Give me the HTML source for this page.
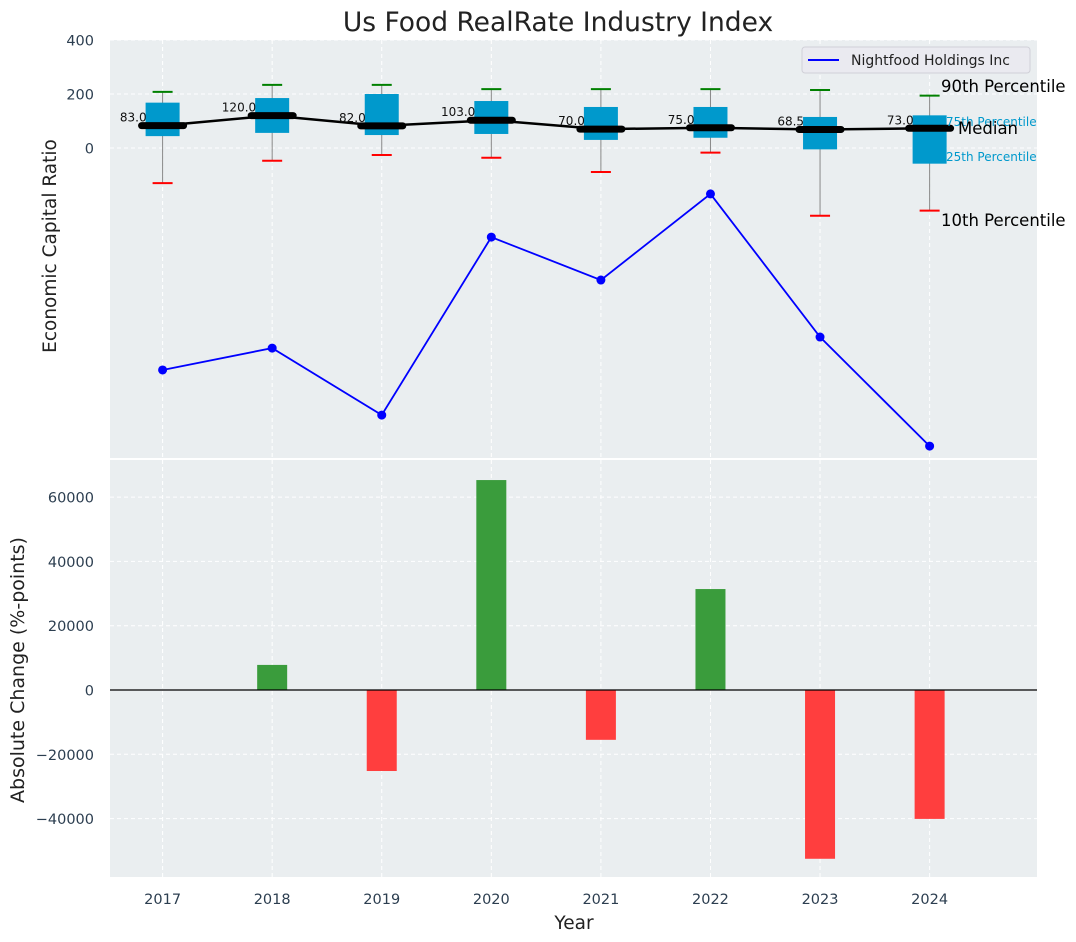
<!DOCTYPE html>
<html><head><meta charset="utf-8"><style>
body{margin:0;background:#fff;}
svg{display:block;font-family:"DejaVu Sans","Liberation Sans",sans-serif;}
</style></head><body>
<svg id="chart" width="1076" height="942" xmlns="http://www.w3.org/2000/svg"></svg>
<script>
const years=[2017,2018,2019,2020,2021,2022,2023,2024];
const p10=[-130,-47,-26,-36,-89,-17,-251,-232];
const q1=[44,56,48,52,30,38,-5,-58];
const medians=[83,120,82,103,70,75,68.5,73];
const q3=[168,185,200,174,152,152,115,121];
const p90=[208,234,234,218,218,218,215,194];
const company=[-822,-741,-989,-330,-489,-170,-700,-1104];
const changes=[0,7800,-25200,65300,-15500,31400,-52500,-40100];
const topTicks=[0,200,400];
const botTicks=[-40000,-20000,0,20000,40000,60000];

const NS="http://www.w3.org/2000/svg";
const svg=document.getElementById('chart');
function mk(tag,attrs,parent,text){const e=document.createElementNS(NS,tag);for(const k in attrs)e.setAttribute(k,attrs[k]);if(text!==undefined)e.textContent=text;(parent||svg).appendChild(e);return e;}
const L=110,R=1037;
const xMin=2016.52,xMax=2024.98;
const X=v=>L+(v-xMin)/(xMax-xMin)*(R-L);
const T0=40,T1=458,tMax=400,tMin=-1148;
const YT=v=>T0+(tMax-v)/(tMax-tMin)*(T1-T0);
const B0=460,B1=877,bMax=71540,bMin=-58170;
const YB=v=>B0+(bMax-v)/(bMax-bMin)*(B1-B0);

let e;
e=mk('text',{x:558,y:31,'text-anchor':'middle','font-size':26.5,fill:'#222'},svg,'Us Food RealRate Industry Index');


const gT=mk('g',{});
mk('rect',{x:L,y:T0,width:R-L,height:T1-T0,fill:'#eaeef0'},gT);
years.forEach(y=>mk('line',{x1:X(y),x2:X(y),y1:T0,y2:T1,stroke:'#fff','stroke-dasharray':'4,3','stroke-width':1},gT));
topTicks.forEach(t=>{mk('line',{x1:L,x2:R,y1:YT(t),y2:YT(t),stroke:'#fff','stroke-dasharray':'4,3'},gT);
 e=mk('text',{x:94,y:YT(t)+5.5,'text-anchor':'end','font-size':14.5,fill:'#2c3e50'},gT,String(t));
 });
e=mk('text',{x:56,y:246,'text-anchor':'middle','font-size':18.5,fill:'#222',transform:'rotate(-90 56 246)'},svg,'Economic Capital Ratio');


years.forEach((y,i)=>{
 const cx=X(y);
 const g=mk('g',{},gT);
 mk('line',{x1:cx,x2:cx,y1:YT(p90[i]),y2:YT(p10[i]),stroke:'#888','stroke-width':1},g);
 mk('rect',{x:cx-17,y:YT(q3[i]),width:34,height:YT(q1[i])-YT(q3[i]),fill:'#0099cc'},g);
 mk('line',{x1:cx-10,x2:cx+10,y1:YT(p90[i]),y2:YT(p90[i]),stroke:'green','stroke-width':2},g);
 mk('line',{x1:cx-10,x2:cx+10,y1:YT(p10[i]),y2:YT(p10[i]),stroke:'red','stroke-width':2},g);
});
let pts=years.map((y,i)=>X(y)+','+YT(medians[i])).join(' ');
e=mk('polyline',{points:pts,fill:'none',stroke:'#000','stroke-width':2.5},gT);

years.forEach((y,i)=>{const cx=X(y);
 e=mk('line',{x1:cx-21,x2:cx+21,y1:YT(medians[i]),y2:YT(medians[i]),stroke:'#000','stroke-width':7,'stroke-linecap':'round'},gT);
 
 e=mk('text',{x:cx-16,y:YT(medians[i])-4,'text-anchor':'end','font-size':12,fill:'#111'},gT,medians[i].toFixed(1));
 });
pts=years.map((y,i)=>X(y)+','+YT(company[i])).join(' ');
e=mk('polyline',{points:pts,fill:'none',stroke:'blue','stroke-width':1.8},gT);

years.forEach((y,i)=>{e=mk('circle',{cx:X(y),cy:YT(company[i]),r:4.5,fill:'blue'},gT);
 });
const lg=mk('g',{},gT);
mk('rect',{x:802,y:47,width:228,height:26,rx:3,fill:'#eaeaf0',stroke:'#d0d0d8'},lg);
mk('line',{x1:808,x2:839,y1:60,y2:60,stroke:'blue','stroke-width':2},lg);
mk('text',{x:851,y:65,'font-size':14,fill:'#222'},lg,'Nightfood Holdings Inc');
const ann=[[941,92,'90th Percentile',16.5,'#000'],[946,126,'75th Percentile',12,'#0099cc'],[958,134,'Median',16.5,'#000'],[946,161,'25th Percentile',12,'#0099cc'],[941,226,'10th Percentile',16.5,'#000']];
ann.forEach(a=>{e=mk('text',{x:a[0],y:a[1],'font-size':a[3],fill:a[4]},svg,a[2]);
 });

const gB=mk('g',{});
mk('rect',{x:L,y:B0,width:R-L,height:B1-B0,fill:'#eaeef0'},gB);
years.forEach(y=>mk('line',{x1:X(y),x2:X(y),y1:B0,y2:B1,stroke:'#fff','stroke-dasharray':'4,3'},gB));
botTicks.forEach(t=>{mk('line',{x1:L,x2:R,y1:YB(t),y2:YB(t),stroke:'#fff','stroke-dasharray':'4,3'},gB);
 e=mk('text',{x:94,y:YB(t)+5.5,'text-anchor':'end','font-size':14.5,fill:'#2c3e50'},gB,(t<0?'\u2212':'')+Math.abs(t));
 });
years.forEach((y,i)=>{const v=changes[i];if(v===0)return;
 e=mk('rect',{x:X(y)-15,y:Math.min(YB(v),YB(0)),width:30,height:Math.abs(YB(v)-YB(0)),fill:v>0?'#3a9c3c':'#ff3e3e'},gB);
 });
mk('line',{x1:L,x2:R,y1:YB(0),y2:YB(0),stroke:'#000','stroke-width':1.2},gB);
years.forEach(y=>{e=mk('text',{x:X(y),y:904,'text-anchor':'middle','font-size':14.5,fill:'#2c3e50'},svg,String(y));
 });
e=mk('text',{x:574,y:929,'text-anchor':'middle','font-size':18.5,fill:'#222'},svg,'Year');

e=mk('text',{x:24,y:670,'text-anchor':'middle','font-size':19,fill:'#222',transform:'rotate(-90 24 670)'},svg,'Absolute Change (%-points)');

</script>
</body></html>
